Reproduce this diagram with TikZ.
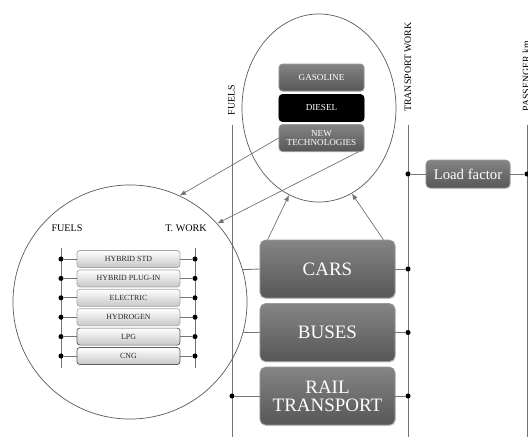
\documentclass[tikz,border=0pt]{standalone}
\usepackage{fontspec}
\setmainfont{Liberation Serif}
\usetikzlibrary{shapes.geometric, arrows.meta, shadows}

\begin{document}
\begin{tikzpicture}[x=0.025cm, y=-0.025cm, line width=0.5pt]

    % Styles
    \tikzstyle{mode} = [rectangle, rounded corners=4pt, draw=black!40, top color=black!48, bottom color=black!66, text=white, font=\fontsize{13.5}{13}\selectfont, align=center, minimum width=3.375cm, minimum height=1.45cm, inner sep=1pt, drop shadow={opacity=0.25, shadow xshift=0.6pt, shadow yshift=-0.8pt}]
    \tikzstyle{fuel} = [rectangle, rounded corners=2.5pt, draw=black!40, top color=black!48, bottom color=black!66, text=white, font=\fontsize{6.5}{7}\selectfont, align=center, minimum width=2.125cm, minimum height=0.675cm, inner sep=0pt, drop shadow={opacity=0.25, shadow xshift=0.5pt, shadow yshift=-0.6pt}]
    \tikzstyle{tech} = [rectangle, rounded corners=2pt, draw=black!35, top color=white, bottom color=black!22, text=black!85, font=\fontsize{5.6}{5.6}\selectfont, minimum width=2.575cm, minimum height=0.425cm, inner sep=0pt]
    \tikzstyle{techdark} = [tech, draw=black!65]
    \tikzstyle{axis} = [draw=black!55, line width=0.6pt]
    \tikzstyle{axislabel} = [rotate=90, font=\fontsize{7}{7}\selectfont, inner sep=0pt]
    \tikzstyle{joint} = [circle, fill=black, inner sep=0pt, minimum size=3.6pt]
    \tikzstyle{link} = [draw=black!55, line width=0.6pt]
    \tikzstyle{pointer} = [draw=black!55, -{Latex[length=4.5pt, width=3.5pt]}, line width=0.5pt]

    \useasboundingbox (0,0) rectangle (528,437);

    % Vertical axes
    \coordinate (fuelstop) at (232,125);
    \coordinate (fuelsbot) at (232,437);
    \coordinate (worktop) at (408,125);
    \coordinate (workbot) at (408,437);
    \coordinate (passtop) at (527,125);
    \coordinate (passbot) at (527,437);
    \draw[axis] (fuelstop) -- (fuelsbot);
    \draw[axis] (worktop) -- (workbot);
    \draw[axis] (passtop) -- (passbot);
    \node[axislabel] (fuelslab) at (231.5,100) {FUELS};
    \node[axislabel] (worklab) at (408,67) {TRANSPORT WORK};
    \node[axislabel] (passlab) at (526,76) {PASSENGER km};

    % Fuel mix
    \node[ellipse, draw=black!65, minimum width=3.85cm, minimum height=4.7cm] (fuelmix) at (319,108) {};
    \node[fuel] (gasoline) at (321.5,77.5) {GASOLINE};
    \node[fuel, top color=black, bottom color=black, draw=black] (diesel) at (321.5,108) {DIESEL};
    \node[fuel] (newtech) at (321.5,138) {NEW\\TECHNOLOGIES};

    % Transport modes
    \node[mode] (cars) at (327.5,269) {CARS};
    \node[mode] (buses) at (327.5,332.5) {BUSES};
    \node[mode] (rail) at (327.5,396) {RAIL\\TRANSPORT};

    % Load factor
    \node[mode, font=\fontsize{10.5}{10.5}\selectfont, minimum width=2.1cm, minimum height=0.7cm, rounded corners=3pt] (load) at (468,174) {Load factor};
    \node[joint] (lw) at (408,174) {};
    \node[joint] (lp) at (527,174) {};
    \draw[link] (lw) -- (load);
    \draw[link] (load) -- (lp);

    % New technologies detail
    \node[circle, draw=black!65, minimum size=5.85cm] (detail) at (130,302) {};
    \node[font=\fontsize{7.2}{7.2}\selectfont] (dfuels) at (67,228) {FUELS};
    \node[font=\fontsize{7.2}{7.2}\selectfont] (dwork) at (186,228) {T. WORK};
    \coordinate (dltop) at (61,248);
    \coordinate (dlbot) at (61,368);
    \coordinate (drtop) at (195,248);
    \coordinate (drbot) at (195,368);
    \draw[axis] (dltop) -- (dlbot);
    \draw[axis] (drtop) -- (drbot);
    \foreach \name/\look [count=\i] in {HYBRID STD/tech, HYBRID PLUG-IN/tech, ELECTRIC/tech, HYDROGEN/tech, LPG/techdark, CNG/techdark} {
        \node[\look] (t\i) at (128.5,{259+19.4*(\i-1)}) {\name};
        \node[joint] (tl\i) at (61,{259+19.4*(\i-1)}) {};
        \node[joint] (tr\i) at (195,{259+19.4*(\i-1)}) {};
        \draw[link] (tl\i) -- (t\i);
        \draw[link] (t\i) -- (tr\i);
    }

    % Modes to transport work
    \foreach \m/\y in {cars/269, buses/332.5, rail/396} {
        \node[joint] (w\m) at (408,\y) {};
        \draw[link] (\m) -- (w\m);
    }

    % Modes to fuels
    \draw[link] (detail.16) -- (cars.west);
    \draw[link] (detail.-15) -- (buses.west);
    \node[joint] (frail) at (232,396) {};
    \draw[link] (frail) -- (rail);

    % Fuel mix links
    \draw[pointer] ([xshift=0.2cm]cars.north west) -- (fuelmix.251.5);
    \draw[pointer] ([xshift=-0.3cm]cars.north east) -- (fuelmix.291.5);
    \draw[pointer] (newtech.west) -- (detail.65.4);
    \draw[pointer] ([xshift=-0.15cm]newtech.south east) -- (detail.42.3);

\end{tikzpicture}
\end{document}
